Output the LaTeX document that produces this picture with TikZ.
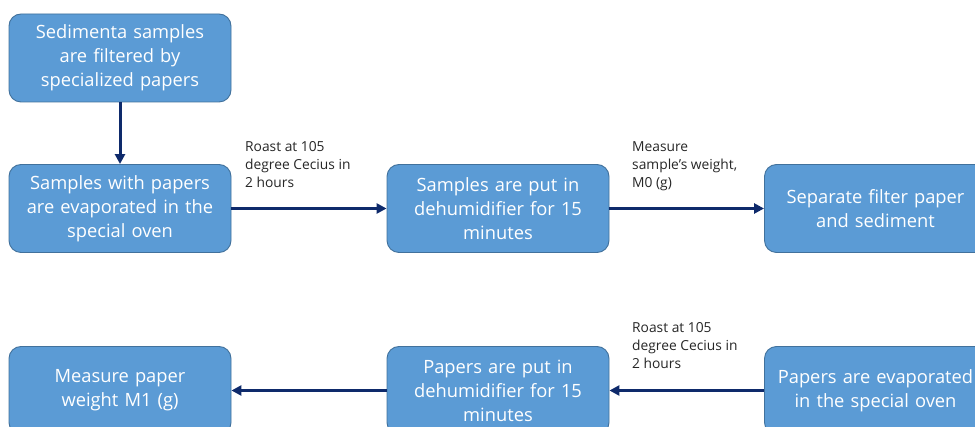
\documentclass[tikz,border=0pt]{standalone}
\usepackage{fontspec}
\setmainfont{Open Sans}
\usetikzlibrary{arrows.meta}
\definecolor{boxfill}{HTML}{5B9BD5}
\definecolor{boxline}{HTML}{41719C}
\definecolor{arrowc}{HTML}{0E2A6B}
\definecolor{labelc}{HTML}{262626}
\tikzset{
  stepbox/.style={draw=boxline, line width=0.9pt, fill=boxfill, rounded corners=12pt,
    minimum width=222pt, minimum height=88pt, text width=214pt, align=center,
    text=white, inner sep=0pt, font=\fontsize{18.3}{24}\selectfont},
  flow/.style={draw=arrowc, line width=3pt, -{Triangle[length=10pt,width=10pt]}},
  note/.style={anchor=north west, align=left, inner sep=0pt, text=labelc,
    font=\fontsize{13.8}{18}\selectfont}
}
\begin{document}
\begin{tikzpicture}[x=1pt,y=-1pt]
\useasboundingbox (0,0) rectangle (975,427);
\clip (0,0) rectangle (975,427);
\node[stepbox] (n1) at (120,58) {Sedimenta samples\\are filtered by\\specialized papers};
\node[stepbox] (n2) at (120,208.5) {Samples with papers\\are evaporated in the\\special oven};
\node[stepbox] (n3) at (498,208.5) {Samples are put in\\dehumidifier for 15\\minutes};
\node[stepbox] (n4) at (875.5,208.5) {Separate filter paper\\and sediment};
\node[stepbox] (n5) at (120,390.5) {Measure paper\\weight M1 (g)};
\node[stepbox] (n6) at (498,390.5) {Papers are put in\\dehumidifier for 15\\minutes};
\node[stepbox] (n7) at (875.5,390.5) {Papers are evaporated\\in the special oven};
\draw[flow] (n1) -- (n2);
\draw[flow] (n2) -- (n3);
\draw[flow] (n3) -- (n4);
\draw[flow] (n7) -- (n6);
\draw[flow] (n6) -- (n5);
\node[note] (l1) at (245,141) {Roast at 105\\degree Cecius in\\2 hours};
\node[note] (l2) at (632,141) {Measure\\sample’s weight,\\M0 (g)};
\node[note] (l3) at (632,322) {Roast at 105\\degree Cecius in\\2 hours};
\end{tikzpicture}
\end{document}
